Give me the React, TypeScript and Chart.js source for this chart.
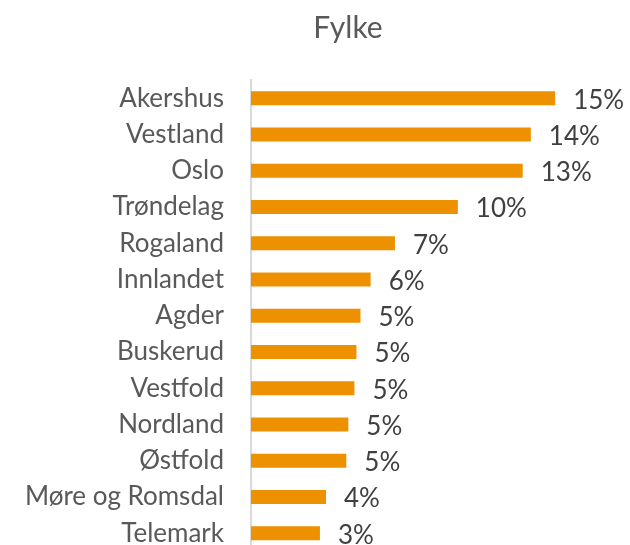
import React, { useEffect, useRef } from "react";
import { Chart, registerables } from "chart.js";

Chart.register(...registerables);

const categories = [
  "Akershus",
  "Vestland",
  "Oslo",
  "Trøndelag",
  "Rogaland",
  "Innlandet",
  "Agder",
  "Buskerud",
  "Vestfold",
  "Nordland",
  "Østfold",
  "Møre og Romsdal",
  "Telemark",
];
const values = [15.0, 13.8, 13.4, 10.2, 7.1, 5.9, 5.4, 5.2, 5.1, 4.8, 4.7, 3.7, 3.4];
const valueLabels = ["15%", "14%", "13%", "10%", "7%", "6%", "5%", "5%", "5%", "5%", "5%", "4%", "3%"];
const titleText = "Fylke";

const FONT = "Lato, 'Open Sans', sans-serif";

const valueLabelPlugin = {
  id: "valueLabels",
  afterDatasetsDraw(chart: any) {
    const ctx = chart.ctx;
    const meta = chart.getDatasetMeta(0);
    ctx.save();
    ctx.font = `26px ${FONT}`;
    ctx.fillStyle = "#404040";
    ctx.textAlign = "left";
    ctx.textBaseline = "middle";
    meta.data.forEach((bar: any, i: number) => {
      ctx.fillText(valueLabels[i], bar.x + 18, bar.y + 2);
    });
    ctx.restore();
  },
};

const titlePlugin = {
  id: "offsetTitle",
  afterDraw(chart: any) {
    const ctx = chart.ctx;
    ctx.save();
    ctx.font = `30px ${FONT}`;
    ctx.fillStyle = "#595959";
    ctx.textAlign = "center";
    ctx.textBaseline = "alphabetic";
    ctx.fillText(titleText, 348, 37.5);
    ctx.restore();
  },
};

export default function App() {
  const ref = useRef<HTMLCanvasElement | null>(null);
  useEffect(() => {
    if (!ref.current) return;
    const chart = new Chart(ref.current, {
      type: "bar",
      data: {
        labels: categories,
        datasets: [
          {
            data: values,
            backgroundColor: "#ED9100",
            borderWidth: 0,
            categoryPercentage: 1,
            barPercentage: 0.386,
          },
        ],
      },
      options: {
        indexAxis: "y",
        animation: false,
        responsive: false,
        maintainAspectRatio: false,
        layout: { padding: { left: 0, right: 14, top: 80, bottom: 0 } },
        plugins: {
          legend: { display: false },
          tooltip: { enabled: false },
          title: { display: false },
        },
        scales: {
          x: { display: false, min: 0, max: 18 },
          y: {
            afterFit: (s: any) => {
              s.width = 251;
            },
            grid: { display: false, drawTicks: false },
            border: { display: true, color: "#d9d9d9", width: 2 },
            ticks: {
              color: "#595959",
              padding: 27,
              font: { family: FONT, size: 26 },
            },
          },
        },
      },
      plugins: [valueLabelPlugin, titlePlugin],
    });
    return () => chart.destroy();
  }, []);
  return (
    <div style={{ position: "fixed", left: 0, top: 0, width: 630, height: 594, background: "#fff" }}>
      <canvas ref={ref} width={630} height={594} />
    </div>
  );
}
